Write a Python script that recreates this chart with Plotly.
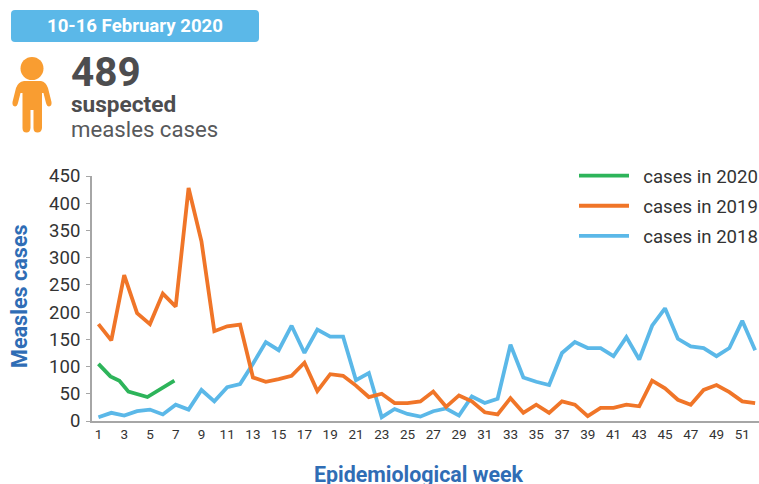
import plotly.graph_objects as go

weeks = list(range(1, 53))
weeks_2020 = [1, 1.93, 2.63, 3.33, 4.8, 6.9]
cases_2020 = [105, 82, 74, 54, 44, 74]
cases_2019 = [178, 148, 268, 198, 178, 234, 210, 428, 330, 165, 174, 177, 80, 72, 77, 83, 107, 55, 86, 83,
              65, 44, 50, 33, 33, 36, 54, 26, 47, 36, 16, 12, 42, 15, 30, 15, 36, 30, 9, 24,
              24, 30, 27, 74, 60, 39, 30, 57, 66, 53, 36, 33]
cases_2018 = [7, 15, 10, 18, 21, 12, 30, 21, 57, 36, 62, 68, 105, 145, 130, 175, 125, 168, 155, 155,
              75, 88, 7, 22, 13, 8, 18, 23, 10, 45, 33, 41, 140, 80, 72, 66, 125, 145, 134, 134,
              119, 154, 113, 175, 207, 151, 137, 134, 119, 134, 184, 130]

W, H = 759, 484
L, R, T, B = 92, 0, 176, 63
GREEN, ORANGE, BLUE = "#2DB45A", "#F07528", "#5BB8E8"
TITLE_BLUE = "#2F6DB5"
DARK = "#4D4D4F"
TICK = "#333333"
LINE_W = 3.8


def px(x):
    return (x - L) / (W - L - R)


def py(y):
    return 1 - (y - T) / (H - T - B)


def path(cmds):
    out = []
    for c in cmds:
        if isinstance(c, str):
            out.append(c)
        else:
            out.append(f"{px(c[0]):.5f},{py(c[1]):.5f}")
    return " ".join(out)


fig = go.Figure()
fig.add_trace(go.Scatter(x=weeks, y=cases_2018, name="\u00a0\u00a0cases in 2018", mode="lines", legendgroup="a",
                         legendrank=3, line=dict(color=BLUE, width=LINE_W)))
fig.add_trace(go.Scatter(x=weeks, y=cases_2019, name="\u00a0\u00a0cases in 2019", mode="lines", legendgroup="b",
                         legendrank=2, line=dict(color=ORANGE, width=LINE_W)))
fig.add_trace(go.Scatter(x=weeks_2020, y=cases_2020, name="\u00a0\u00a0cases in 2020", mode="lines", legendgroup="c",
                         legendrank=1, line=dict(color=GREEN, width=LINE_W)))

banner = path(["M", (15, 10), "L", (255, 10), "Q", (259, 10), "", (259, 14), "L", (259, 38), "Q", (259, 42), "", (255, 42),
               "L", (15, 42), "Q", (11, 42), "", (11, 38), "L", (11, 14), "Q", (11, 10), "", (15, 10), "Z"])
body = path(["M", (24, 81), "L", (41, 81), "Q", (46, 82), "", (48, 88), "L", (51.5, 102), "Q", (52, 106), "", (49, 106.5),
             "Q", (47, 106.5), "", (46, 103), "L", (43.5, 93), "L", (42, 93), "L", (42, 128), "Q", (41.5, 132.5), "", (37.5, 132.5),
             "Q", (33.5, 132.5), "", (33.5, 128), "L", (33.5, 110), "L", (30.5, 110), "L", (30.5, 128), "Q", (30, 132.5), "", (26.5, 132.5),
             "Q", (22.5, 132.5), "", (22.5, 128), "L", (22.5, 93), "L", (20.5, 93), "L", (18, 103), "Q", (17, 106.5), "", (15, 106.5),
             "Q", (12, 106), "", (12.5, 102), "L", (16, 88), "Q", (18, 82), "", (24, 81), "Z"])

shapes = [
    dict(type="path", xref="paper", yref="paper", path=banner, fillcolor="#5BB8E8", line=dict(width=0), layer="below"),
    dict(type="circle", xref="paper", yref="paper", x0=px(20.5), x1=px(43.5), y0=py(80), y1=py(57),
         fillcolor="#F99D31", line=dict(width=0)),
    dict(type="path", xref="paper", yref="paper", path=body, fillcolor="#F99D31", line=dict(width=0)),
]


def label(x, y, text, size, color, xanchor="left", family="Roboto", angle=0):
    return dict(xref="paper", yref="paper", x=px(x), y=py(y), text=text, showarrow=False, xanchor=xanchor,
                yanchor="middle", align="left", textangle=angle, font=dict(size=size, color=color, family=family),
                borderpad=0, xshift=0)


annotations = [
    label(135, 26, "<b>10-16 February 2020</b>", 18.6, "white", "center"),
    label(70, 72, "<b>489</b>", 40.5, DARK),
    label(70, 104, "<b>suspected</b>", 22.6, DARK),
    label(70, 129, "measles cases", 22.2, "#58595B"),
    label(19, 296, "<b>Measles cases</b>", 21.6, TITLE_BLUE, "center", angle=-90),
    label(419, 474, "<b>Epidemiological week</b>", 21.4, TITLE_BLUE, "center"),
]

fig.update_layout(
    width=W, height=H, autosize=False,
    margin=dict(l=L, r=R, t=T, b=B, autoexpand=False),
    paper_bgcolor="white", plot_bgcolor="white",
    font=dict(family="Roboto", color=TICK),
    shapes=shapes, annotations=annotations,
    showlegend=True,
    legend=dict(traceorder="grouped", x=px(574), xanchor="left", y=py(157), yanchor="top",
                font=dict(size=18.6, color="#333333", family="Roboto"), itemwidth=50,
                tracegroupgap=3, bgcolor="rgba(0,0,0,0)"),
    xaxis=dict(range=[0.5, 52.3], tick0=1, dtick=2, showgrid=False, zeroline=False, showline=True,
               linecolor="#A6A6A6", linewidth=2, ticks="", tickfont=dict(size=13.5, color=TICK)),
    yaxis=dict(range=[0, 450], dtick=50, showgrid=False, zeroline=False, showline=True,
               linecolor="#A6A6A6", linewidth=2, ticks="outside", ticklen=4, tickwidth=1, tickcolor="#A6A6A6",
               ticklabelstandoff=2, tickfont=dict(size=18.5, color=TICK)),
)

fig.write_html("out.html", config=dict(displayModeBar=False),
               post_script="document.body.style.margin='0';document.documentElement.style.overflow='hidden';")
